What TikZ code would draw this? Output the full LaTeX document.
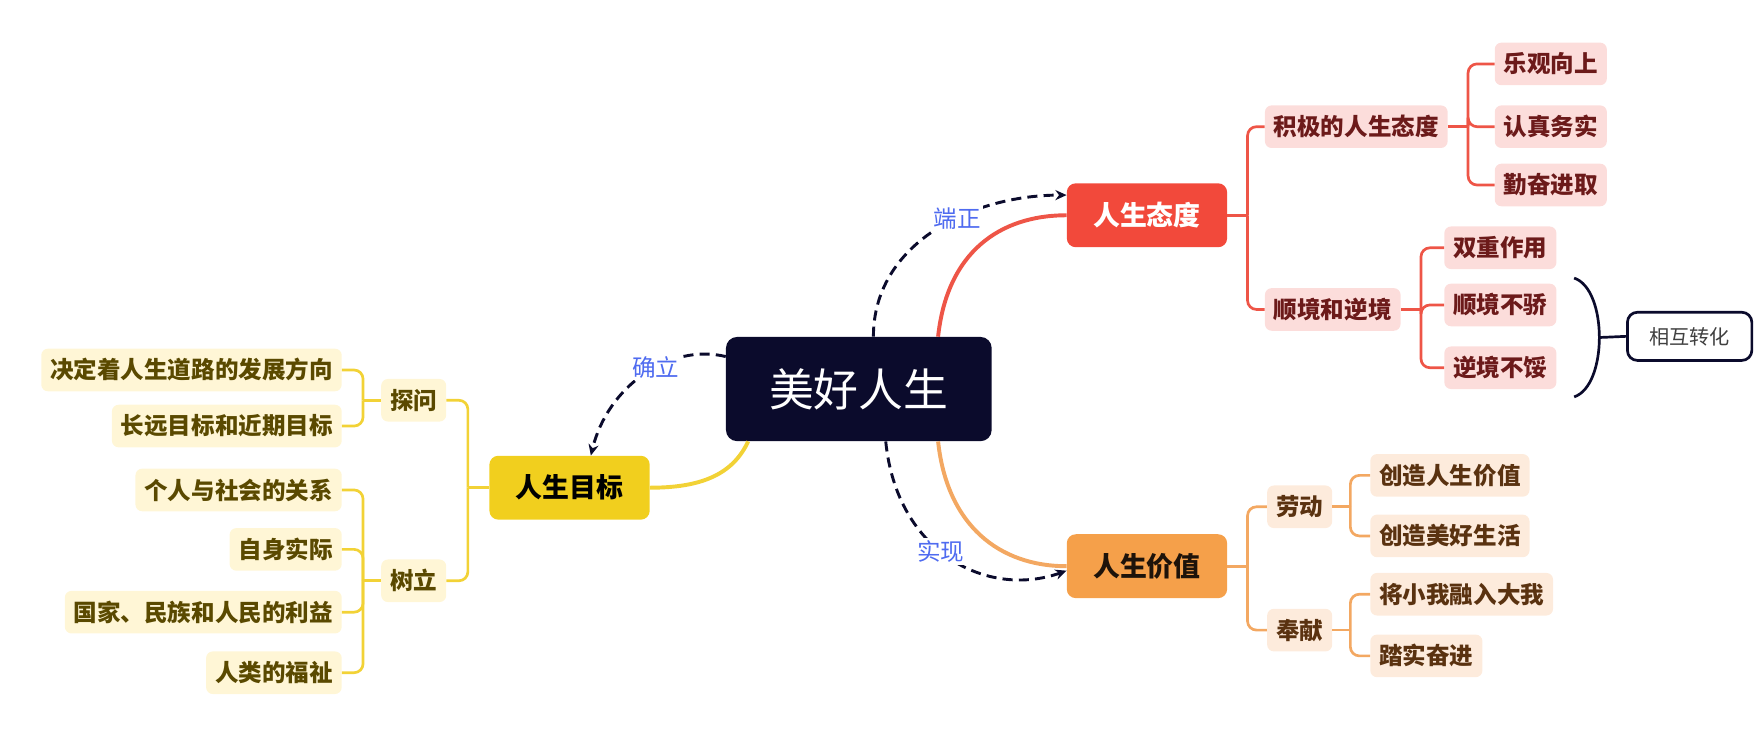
\documentclass[tikz,border=0pt]{standalone}
\usepackage{fontspec}
\setmainfont{Noto Sans CJK SC}
\usepackage{tikz}
\usetikzlibrary{arrows.meta}
\definecolor{mnavy}{HTML}{0B0B2C}
\definecolor{mblue}{HTML}{4F6BF0}
\definecolor{ydark}{HTML}{F1CF1E}
\definecolor{yline}{HTML}{F2D236}
\definecolor{ylight}{HTML}{FFF6D6}
\definecolor{ytext}{HTML}{5A4900}
\definecolor{rdark}{HTML}{F2493B}
\definecolor{rline}{HTML}{EE5547}
\definecolor{rlight}{HTML}{FCDDDB}
\definecolor{rtext}{HTML}{6C1A1A}
\definecolor{odark}{HTML}{F5A04A}
\definecolor{oline}{HTML}{F3A862}
\definecolor{olight}{HTML}{FDEBDC}
\definecolor{otext}{HTML}{5A3210}
\tikzset{root/.style = {fill=mnavy, text=white, rounded corners=10pt,
                        minimum width=237pt, minimum height=93pt,
                        font=\fontsize{40}{40}\selectfont},
         topic/.style = {rounded corners=8pt, minimum width=143pt, minimum height=57pt,
                         font=\bfseries\fontsize{24}{24}\selectfont},
         leaf/.style = {rounded corners=6pt, inner xsep=8pt, inner ysep=0pt,
                        minimum height=38pt, font=\bfseries\fontsize{21}{21}\selectfont},
         yleaf/.style = {leaf, fill=ylight, text=ytext},
         rleaf/.style = {leaf, fill=rlight, text=rtext},
         oleaf/.style = {leaf, fill=olight, text=otext},
         ybranch/.style = {draw=yline, line width=2.4pt, rounded corners=8pt},
         rbranch/.style = {draw=rline, line width=2.4pt, rounded corners=8pt},
         obranch/.style = {draw=oline, line width=2.4pt, rounded corners=8pt},
         relation/.style = {draw=mnavy, line width=2.6pt, dash pattern=on 9pt off 5.5pt,
                            -{Stealth[length=10pt,width=9pt]}},
         tag/.style = {fill=white, text=mblue, inner sep=2pt,
                       font=\fontsize{21}{21}\selectfont}}

\begin{document}
\begin{tikzpicture}[x=1pt, y=-1pt]
    \useasboundingbox (0, 0) rectangle (1568, 653);

    \node [root] (life) at (766, 347) {美好人生};
    \node [topic, fill=ydark, text=black] (goal) at (508, 435) {人生目标};
    \node [topic, fill=rdark, text=white] (attitude) at (1023, 192) {人生态度};
    \node [topic, fill=odark, text=black!85!brown] (value) at (1023, 505) {人生价值};

    % main branches
    \draw [draw=yline, line width=3.5pt] ([xshift=20pt]life.south west)
      .. controls +(-14, 30) and +(45, 0) .. (goal.east);
    \draw [draw=rline, line width=3.5pt] ([xshift=-48pt]life.north east)
      .. controls +(8, -75) and +(-60, 0) .. (attitude.west);
    \draw [draw=oline, line width=3.5pt] ([xshift=-48pt]life.south east)
      .. controls +(8, 75) and +(-60, 0) .. (value.west);

    % relations
    \draw [relation] ([yshift=29pt]life.west)
      .. controls +(-50, -12) and +(15, -62) .. ([xshift=19pt]goal.north)
      node [tag, pos=0.42] {确立};
    \draw [relation] ([xshift=13pt]life.north)
      .. controls +(0, -83) and +(-85, 0) .. ([yshift=18pt]attitude.west)
      node [tag, pos=0.6] {端正};
    \draw [relation] ([xshift=24pt]life.south)
      .. controls +(10, 100) and +(-70, 25) .. ([yshift=-4pt]value.west)
      node [tag, pos=0.45] {实现};

    % goal
    \node [yleaf] (explore) at (369, 357) {探问};
    \node [yleaf] (establish) at (369, 518) {树立};
    \node [yleaf, anchor=east] (y1) at (305, 330) {决定着人生道路的发展方向};
    \node [yleaf, anchor=east] (y2) at (305, 380) {长远目标和近期目标};
    \node [yleaf, anchor=east] (y3) at (305, 437) {个人与社会的关系};
    \node [yleaf, anchor=east] (y4) at (305, 490) {自身实际};
    \node [yleaf, anchor=east] (y5) at (305, 546) {国家、民族和人民的利益};
    \node [yleaf, anchor=east] (y6) at (305, 600) {人类的福祉};

    \draw [ybranch] (goal.west) -- ++(-19, 0) coordinate (goal-t);
    \draw [ybranch] (goal-t) |- (explore.east);
    \draw [ybranch] (goal-t) |- (establish.east);
    \draw [ybranch] (explore.west) -- ++(-16, 0) coordinate (explore-t);
    \draw [ybranch] (explore-t) |- (y1.east);
    \draw [ybranch] (explore-t) |- (y2.east);
    \draw [ybranch] (establish.west) -- ++(-16, 0) coordinate (establish-t);
    \draw [ybranch] (establish-t) |- (y3.east);
    \draw [ybranch] (establish-t) |- (y4.east);
    \draw [ybranch] (establish-t) |- (y5.east);
    \draw [ybranch] (establish-t) |- (y6.east);

    % attitude
    \node [rleaf, anchor=west] (positive) at (1128, 113) {积极的人生态度};
    \node [rleaf, anchor=west] (fortune) at (1128, 276) {顺境和逆境};
    \node [rleaf, anchor=west] (r1) at (1333, 57) {乐观向上};
    \node [rleaf, anchor=west] (r2) at (1333, 113) {认真务实};
    \node [rleaf, anchor=west] (r3) at (1333, 165) {勤奋进取};
    \node [rleaf, anchor=west] (r4) at (1288, 221) {双重作用};
    \node [rleaf, anchor=west] (r5) at (1288, 272) {顺境不骄};
    \node [rleaf, anchor=west] (r6) at (1288, 328) {逆境不馁};

    \draw [rbranch] (attitude.east) -- ++(18, 0) coordinate (attitude-t);
    \draw [rbranch] (attitude-t) |- (positive.west);
    \draw [rbranch] (attitude-t) |- (fortune.west);
    \draw [rbranch] (positive.east) -- ++(18, 0) coordinate (positive-t);
    \draw [rbranch] (positive-t) |- (r1.west);
    \draw [rbranch] (positive-t) |- (r2.west);
    \draw [rbranch] (positive-t) |- (r3.west);
    \draw [rbranch] (fortune.east) -- ++(18, 0) coordinate (fortune-t);
    \draw [rbranch] (fortune-t) |- (r4.west);
    \draw [rbranch] (fortune-t) |- (r5.west);
    \draw [rbranch] (fortune-t) |- (r6.west);

    % summary
    \node [draw=mnavy, line width=2.4pt, rounded corners=9pt, fill=white, text=black!75,
           minimum width=111pt, minimum height=43pt,
           font=\fontsize{18}{18}\selectfont] (change) at (1507, 300) {相互转化};
    \draw [draw=mnavy, line width=2.4pt] (1404, 248) .. controls (1434, 258) and (1434, 344) .. (1404, 354);
    \coordinate (brace) at (1427, 301);
    \draw [draw=mnavy, line width=2.4pt] (brace) -- (change.west);

    % value
    \node [oleaf, anchor=west] (labour) at (1130, 452) {劳动};
    \node [oleaf, anchor=west] (devote) at (1130, 562) {奉献};
    \node [oleaf, anchor=west] (o1) at (1222, 424) {创造人生价值};
    \node [oleaf, anchor=west] (o2) at (1222, 478) {创造美好生活};
    \node [oleaf, anchor=west] (o3) at (1222, 530) {将小我融入大我};
    \node [oleaf, anchor=west] (o4) at (1222, 585) {踏实奋进};

    \draw [obranch] (value.east) -- ++(18, 0) coordinate (value-t);
    \draw [obranch] (value-t) |- (labour.west);
    \draw [obranch] (value-t) |- (devote.west);
    \draw [obranch] (labour.east) -- ++(16, 0) coordinate (labour-t);
    \draw [obranch] (labour-t) |- (o1.west);
    \draw [obranch] (labour-t) |- (o2.west);
    \draw [obranch] (devote.east) -- ++(16, 0) coordinate (devote-t);
    \draw [obranch] (devote-t) |- (o3.west);
    \draw [obranch] (devote-t) |- (o4.west);
  \end{tikzpicture}
\end{document}
